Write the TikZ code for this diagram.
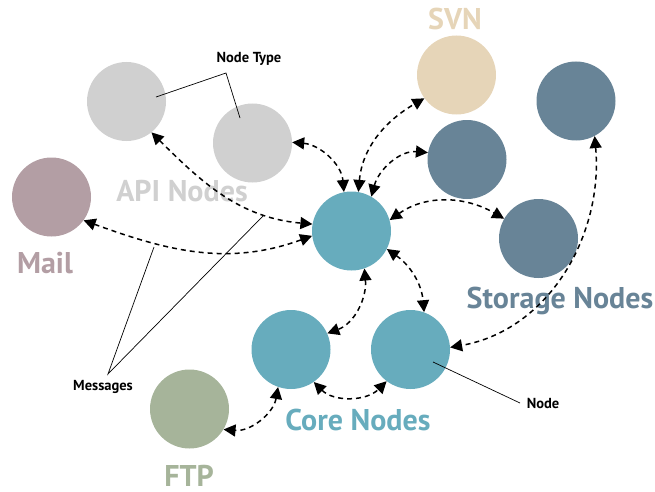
\documentclass[tikz,border=0pt]{standalone}
\usepackage{fontspec}
\setmainfont{PT Sans}
\usepackage{tikz}
\usetikzlibrary{arrows.meta, calc}

\definecolor{apigray}{HTML}{D0D0D0}
\definecolor{mailrose}{HTML}{B39EA4}
\definecolor{svntan}{HTML}{E6D5B8}
\definecolor{storeblue}{HTML}{688497}
\definecolor{coreteal}{HTML}{67ACBD}
\definecolor{ftpgreen}{HTML}{A6B49A}

\begin{document}
\begin{tikzpicture}[
        x=1pt, y=1pt,
        host/.style = {circle, minimum size=79pt, inner sep=0pt},
        group_label/.style = {font=\fontsize{30}{30}\selectfont\bfseries, inner sep=0pt, anchor=base},
        note_label/.style = {font=\fontsize{14.5}{14.5}\selectfont\bfseries, text=black, inner sep=0pt, anchor=base},
        msg/.style = {draw, line width=1.5pt, dash pattern=on 5pt off 4pt, {Triangle[length=12pt,width=12pt]}-{Triangle[length=12pt,width=12pt]}},
        leader/.style = {draw, line width=0.7pt}
    ]
    \useasboundingbox (0,0) rectangle (655,491);

    % Group labels
    \node [group_label, text=svntan] (svn_lbl) at (455,461) {SVN};
    \node [group_label, text=apigray] (api_lbl) at (182,290) {API Nodes};
    \node [group_label, text=mailrose] (mail_lbl) at (45,218) {Mail};
    \node [group_label, text=storeblue] (store_lbl) at (560,183) {Storage Nodes};
    \node [group_label, text=coreteal] (core_lbl) at (358,61) {Core Nodes};
    \node [group_label, text=ftpgreen] (ftp_lbl) at (189,5) {FTP};

    % Hosts
    \node [host, fill=apigray] (api_a) at (126.5,389.5) {};
    \node [host, fill=apigray] (api_b) at (252.5,348) {};
    \node [host, fill=mailrose] (mail) at (51.5,294) {};
    \node [host, fill=svntan] (svn) at (456.5,416) {};
    \node [host, fill=storeblue] (store_a) at (576,390) {};
    \node [host, fill=storeblue] (store_b) at (467,331.5) {};
    \node [host, fill=storeblue] (store_c) at (538.5,252.5) {};
    \node [host, fill=coreteal] (core_hub) at (351.5,260) {};
    \node [host, fill=coreteal] (core_l) at (291,141.5) {};
    \node [host, fill=coreteal] (core_r) at (410.5,141.5) {};
    \node [host, fill=ftpgreen] (ftp) at (189.5,82) {};

    % Messages
    \draw [msg] (api_a.-51) to[out=-45, in=175] (core_hub.170);
    \draw [msg] (mail.-36) to[out=-20, in=200] (core_hub.187);
    \draw [msg] (api_b.1) to[out=-5, in=95] (core_hub.101);
    \draw [msg] (core_hub.80) to[out=85, in=210] (svn.216);
    \draw [msg] (core_hub.60) to[out=75, in=175] (store_b.170);
    \draw [msg] (core_hub.16) to[out=35, in=150] (store_c.150);
    \draw [msg] (core_hub.-27) to[out=-35, in=95] (core_r.70);
    \draw [msg] (core_hub.-71) to[out=-85, in=20] (core_l.24);
    \draw [msg] (core_l.-55) to[out=-45, in=-135] (core_r.233);
    \draw [msg] (core_l.-109) to[out=-100, in=-5] (ftp.-31.5);
    \draw [msg] (store_a.-62) to[out=-85, in=10] (core_r.3);

    % Callouts
    \node [note_label] (type_note) at (249,428) {Node Type};
    \coordinate (type_bend) at (226,418);
    \coordinate (type_a) at (156,394);
    \coordinate (type_b) at (240,373);
    \draw [leader] (type_a) -- (type_bend) -- (type_b);

    \node [note_label] (msg_note) at (103,101) {Messages};
    \coordinate (msg_tip) at (108,117);
    \coordinate (msg_a) at (154,244);
    \coordinate (msg_b) at (263,275);
    \draw [leader] (msg_a) -- (msg_tip) -- (msg_b);

    \node [note_label] (node_note) at (543,83) {Node};
    \coordinate (node_pin) at (433,129);
    \coordinate (node_end) at (520,88);
    \draw [leader] (node_pin) -- (node_end);

\end{tikzpicture}
\end{document}
